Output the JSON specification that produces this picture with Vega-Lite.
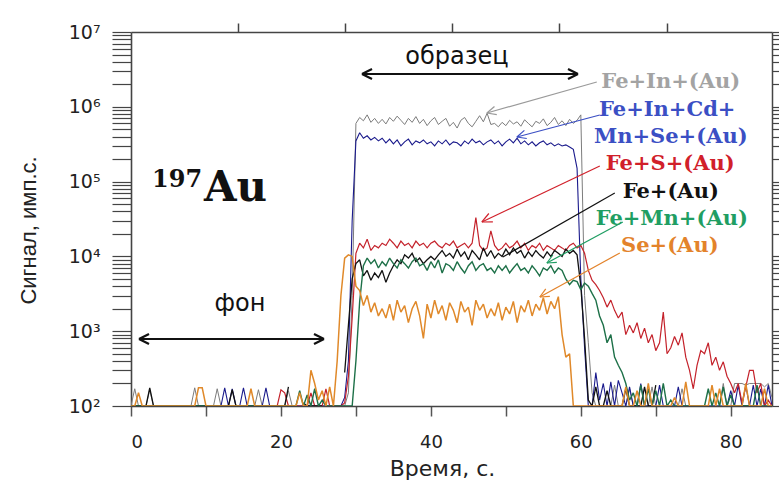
{
"$schema": "https://vega.github.io/schema/vega-lite/v6.json",
"autosize": "none",
"width": 641,
"height": 374,
"padding": {"left": 131, "top": 32, "right": 7, "bottom": 78},
"background": "white",
"config": {"view": {"stroke": null}, "axis": {"grid": false}},
"datasets": {
"sig": [
{"t":0,"g":100,"b":100,"r":100,"k":100,"n":100,"o":100},
{"t":0.5,"g":170,"b":100,"r":100,"k":100,"n":100,"o":100},
{"t":1,"g":100,"b":100,"r":100,"k":100,"n":100,"o":150},
{"t":1.5,"g":100,"b":100,"r":100,"k":100,"n":100,"o":100},
{"t":2,"g":100,"b":100,"r":100,"k":100,"n":100,"o":100},
{"t":2.5,"g":165,"b":100,"r":100,"k":175,"n":100,"o":100},
{"t":3,"g":100,"b":100,"r":100,"k":100,"n":100,"o":100},
{"t":3.5,"g":100,"b":100,"r":100,"k":100,"n":100,"o":100},
{"t":4,"g":100,"b":100,"r":100,"k":100,"n":100,"o":100},
{"t":4.5,"g":100,"b":100,"r":100,"k":100,"n":100,"o":100},
{"t":5,"g":100,"b":100,"r":100,"k":100,"n":100,"o":100},
{"t":5.5,"g":100,"b":100,"r":100,"k":100,"n":100,"o":100},
{"t":6,"g":100,"b":100,"r":100,"k":100,"n":100,"o":100},
{"t":6.5,"g":100,"b":100,"r":100,"k":100,"n":100,"o":100},
{"t":7,"g":100,"b":100,"r":100,"k":100,"n":100,"o":100},
{"t":7.5,"g":100,"b":100,"r":100,"k":100,"n":100,"o":100},
{"t":8,"g":100,"b":100,"r":100,"k":100,"n":100,"o":100},
{"t":8.5,"g":175,"b":100,"r":100,"k":100,"n":100,"o":100},
{"t":9,"g":100,"b":100,"r":100,"k":100,"n":100,"o":175},
{"t":9.5,"g":100,"b":100,"r":100,"k":100,"n":100,"o":175},
{"t":10,"g":100,"b":100,"r":100,"k":100,"n":100,"o":100},
{"t":10.5,"g":100,"b":100,"r":100,"k":100,"n":100,"o":100},
{"t":11,"g":100,"b":100,"r":100,"k":100,"n":100,"o":100},
{"t":11.5,"g":170,"b":100,"r":100,"k":100,"n":100,"o":100},
{"t":12,"g":100,"b":100,"r":100,"k":100,"n":100,"o":100},
{"t":12.5,"g":100,"b":175,"r":100,"k":100,"n":100,"o":100},
{"t":13,"g":100,"b":100,"r":100,"k":100,"n":100,"o":100},
{"t":13.5,"g":100,"b":170,"r":100,"k":165,"n":100,"o":100},
{"t":14,"g":100,"b":100,"r":100,"k":100,"n":100,"o":100},
{"t":14.5,"g":100,"b":100,"r":100,"k":100,"n":100,"o":100},
{"t":15,"g":100,"b":175,"r":100,"k":100,"n":100,"o":100},
{"t":15.5,"g":100,"b":100,"r":100,"k":100,"n":100,"o":100},
{"t":16,"g":100,"b":100,"r":100,"k":100,"n":100,"o":170},
{"t":16.5,"g":100,"b":100,"r":100,"k":100,"n":100,"o":100},
{"t":17,"g":165,"b":100,"r":100,"k":100,"n":100,"o":100},
{"t":17.5,"g":100,"b":100,"r":100,"k":100,"n":100,"o":100},
{"t":18,"g":100,"b":175,"r":100,"k":100,"n":100,"o":100},
{"t":18.5,"g":100,"b":100,"r":100,"k":100,"n":100,"o":100},
{"t":19,"g":100,"b":100,"r":100,"k":100,"n":100,"o":100},
{"t":19.5,"g":100,"b":100,"r":100,"k":100,"n":100,"o":100},
{"t":20,"g":100,"b":100,"r":165,"k":100,"n":100,"o":100},
{"t":20.5,"g":100,"b":100,"r":150,"k":100,"n":100,"o":100},
{"t":21,"g":160,"b":100,"r":100,"k":180,"n":100,"o":100},
{"t":21.5,"g":100,"b":100,"r":100,"k":null,"n":100,"o":100},
{"t":22,"g":100,"b":100,"r":100,"k":null,"n":100,"o":100},
{"t":22.5,"g":100,"b":100,"r":100,"k":null,"n":160,"o":150},
{"t":23,"g":100,"b":100,"r":100,"k":110,"n":100,"o":100},
{"t":23.5,"g":100,"b":100,"r":100,"k":100,"n":140,"o":100},
{"t":24,"g":100,"b":100,"r":150,"k":100,"n":100,"o":300},
{"t":24.5,"g":100,"b":100,"r":100,"k":100,"n":170,"o":200},
{"t":25,"g":100,"b":100,"r":100,"k":100,"n":100,"o":120},
{"t":25.5,"g":100,"b":100,"r":100,"k":100,"n":120,"o":160},
{"t":26,"g":100,"b":100,"r":170,"k":null,"n":100,"o":100},
{"t":26.5,"g":100,"b":100,"r":100,"k":null,"n":100,"o":180},
{"t":27,"g":100,"b":100,"r":100,"k":null,"n":100,"o":100},
{"t":27.5,"g":100,"b":100,"r":100,"k":null,"n":100,"o":400},
{"t":28,"g":100,"b":100,"r":100,"k":null,"n":100,"o":3000},
{"t":28.5,"g":100,"b":130,"r":110,"k":280,"n":100,"o":9500},
{"t":29,"g":150,"b":400,"r":250,"k":1200,"n":100,"o":10500},
{"t":29.5,"g":3000,"b":30000,"r":1500,"k":5000,"n":100,"o":10000},
{"t":30,"g":600000,"b":350000,"r":11000,"k":8000,"n":400,"o":4000},
{"t":30.5,"g":720000,"b":450000,"r":15000,"k":9000,"n":2500,"o":3500},
{"t":31,"g":650000,"b":380000,"r":13000,"k":5500,"n":7500,"o":2200},
{"t":31.5,"g":780000,"b":410000,"r":17000,"k":6500,"n":9500,"o":3000},
{"t":32,"g":620000,"b":360000,"r":12000,"k":4800,"n":8000,"o":1800},
{"t":32.5,"g":700000,"b":390000,"r":14000,"k":6000,"n":9000,"o":2400},
{"t":33,"g":600000,"b":350000,"r":13000,"k":5200,"n":7000,"o":1600},
{"t":33.5,"g":680000,"b":380000,"r":15000,"k":6500,"n":8500,"o":2000},
{"t":34,"g":590000,"b":330000,"r":14000,"k":4500,"n":7500,"o":1500},
{"t":34.5,"g":720000,"b":370000,"r":17000,"k":6000,"n":9500,"o":2300},
{"t":35,"g":640000,"b":320000,"r":15000,"k":7500,"n":8000,"o":1400},
{"t":35.5,"g":750000,"b":360000,"r":13000,"k":9000,"n":7000,"o":2600},
{"t":36,"g":660000,"b":300000,"r":16000,"k":8000,"n":9000,"o":1800},
{"t":36.5,"g":580000,"b":340000,"r":14000,"k":10500,"n":8000,"o":2200},
{"t":37,"g":700000,"b":370000,"r":15000,"k":9500,"n":7000,"o":1300},
{"t":37.5,"g":620000,"b":310000,"r":13000,"k":11000,"n":8500,"o":2000},
{"t":38,"g":740000,"b":350000,"r":16000,"k":8500,"n":9500,"o":2500},
{"t":38.5,"g":600000,"b":330000,"r":14000,"k":9500,"n":7500,"o":1600},
{"t":39,"g":680000,"b":360000,"r":15000,"k":8000,"n":8000,"o":800},
{"t":39.5,"g":560000,"b":320000,"r":13000,"k":9000,"n":6500,"o":2300},
{"t":40,"g":650000,"b":340000,"r":15000,"k":10000,"n":8500,"o":1500},
{"t":40.5,"g":720000,"b":300000,"r":16000,"k":9000,"n":7000,"o":2600},
{"t":41,"g":580000,"b":350000,"r":14000,"k":10500,"n":9000,"o":1700},
{"t":41.5,"g":640000,"b":320000,"r":13000,"k":12000,"n":6000,"o":2200},
{"t":42,"g":700000,"b":360000,"r":15000,"k":10000,"n":8000,"o":1400},
{"t":42.5,"g":550000,"b":310000,"r":14000,"k":11000,"n":7500,"o":2400},
{"t":43,"g":620000,"b":340000,"r":16000,"k":9500,"n":6500,"o":1900},
{"t":43.5,"g":520000,"b":330000,"r":13000,"k":12500,"n":8500,"o":1300},
{"t":44,"g":660000,"b":300000,"r":14000,"k":10000,"n":7000,"o":2500},
{"t":44.5,"g":720000,"b":350000,"r":15000,"k":11500,"n":6000,"o":1800},
{"t":45,"g":600000,"b":320000,"r":13000,"k":9000,"n":7500,"o":2100},
{"t":45.5,"g":540000,"b":370000,"r":15000,"k":12000,"n":8500,"o":1200},
{"t":46,"g":640000,"b":330000,"r":33000,"k":10500,"n":6500,"o":2600},
{"t":46.5,"g":760000,"b":350000,"r":14000,"k":9000,"n":7500,"o":1900},
{"t":47,"g":630000,"b":310000,"r":12000,"k":13000,"n":8000,"o":2300},
{"t":47.5,"g":820000,"b":340000,"r":13000,"k":10000,"n":6500,"o":1500},
{"t":48,"g":580000,"b":360000,"r":22000,"k":12000,"n":7000,"o":2000},
{"t":48.5,"g":600000,"b":320000,"r":14000,"k":9500,"n":6000,"o":1600},
{"t":49,"g":540000,"b":350000,"r":12000,"k":11000,"n":7500,"o":2400},
{"t":49.5,"g":620000,"b":300000,"r":13000,"k":10000,"n":6500,"o":1400},
{"t":50,"g":560000,"b":340000,"r":15000,"k":12500,"n":7500,"o":2100},
{"t":50.5,"g":660000,"b":370000,"r":13000,"k":10500,"n":6000,"o":1700},
{"t":51,"g":590000,"b":330000,"r":14000,"k":13000,"n":7000,"o":2500},
{"t":51.5,"g":630000,"b":380000,"r":16000,"k":11000,"n":8000,"o":1300},
{"t":52,"g":550000,"b":320000,"r":13000,"k":12000,"n":6500,"o":2200},
{"t":52.5,"g":670000,"b":350000,"r":15000,"k":9500,"n":7000,"o":1800},
{"t":53,"g":600000,"b":310000,"r":12000,"k":11500,"n":6000,"o":2600},
{"t":53.5,"g":540000,"b":340000,"r":14000,"k":10000,"n":7500,"o":1600},
{"t":54,"g":640000,"b":300000,"r":13000,"k":12000,"n":6500,"o":2300},
{"t":54.5,"g":600000,"b":330000,"r":15000,"k":10500,"n":5500,"o":1900},
{"t":55,"g":690000,"b":350000,"r":12000,"k":9500,"n":7000,"o":2800},
{"t":55.5,"g":560000,"b":310000,"r":14000,"k":11500,"n":6500,"o":1700},
{"t":56,"g":620000,"b":330000,"r":13000,"k":10000,"n":7500,"o":2500},
{"t":56.5,"g":720000,"b":300000,"r":12000,"k":12000,"n":6000,"o":2000},
{"t":57,"g":580000,"b":320000,"r":14000,"k":11000,"n":7000,"o":2900},
{"t":57.5,"g":650000,"b":300000,"r":13000,"k":10000,"n":6500,"o":900},
{"t":58,"g":560000,"b":310000,"r":12000,"k":12500,"n":5000,"o":450},
{"t":58.5,"g":680000,"b":290000,"r":14000,"k":11000,"n":4200,"o":500},
{"t":59,"g":600000,"b":270000,"r":15000,"k":12000,"n":4800,"o":100},
{"t":59.5,"g":660000,"b":150000,"r":13000,"k":10500,"n":4600,"o":100},
{"t":60,"g":780000,"b":5000,"r":14000,"k":4000,"n":3600,"o":100},
{"t":60.5,"g":3000,"b":600,"r":11000,"k":800,"n":4400,"o":100},
{"t":61,"g":700,"b":100,"r":6500,"k":120,"n":4000,"o":100},
{"t":61.5,"g":150,"b":100,"r":4800,"k":100,"n":3200,"o":100},
{"t":62,"g":100,"b":280,"r":4200,"k":180,"n":2600,"o":100},
{"t":62.5,"g":100,"b":120,"r":3500,"k":100,"n":1600,"o":100},
{"t":63,"g":100,"b":200,"r":2800,"k":100,"n":1200,"o":100},
{"t":63.5,"g":100,"b":100,"r":2100,"k":160,"n":700,"o":100},
{"t":64,"g":100,"b":210,"r":2600,"k":100,"n":900,"o":100},
{"t":64.5,"g":190,"b":100,"r":1900,"k":100,"n":450,"o":100},
{"t":65,"g":100,"b":220,"r":1500,"k":100,"n":350,"o":100},
{"t":65.5,"g":100,"b":150,"r":1800,"k":100,"n":280,"o":100},
{"t":66,"g":100,"b":100,"r":900,"k":170,"n":200,"o":180},
{"t":66.5,"g":170,"b":180,"r":1200,"k":100,"n":120,"o":100},
{"t":67,"g":100,"b":100,"r":950,"k":100,"n":150,"o":100},
{"t":67.5,"g":100,"b":100,"r":1300,"k":100,"n":100,"o":160},
{"t":68,"g":100,"b":200,"r":800,"k":100,"n":190,"o":100},
{"t":68.5,"g":100,"b":100,"r":1100,"k":180,"n":100,"o":100},
{"t":69,"g":100,"b":100,"r":700,"k":100,"n":170,"o":200},
{"t":69.5,"g":180,"b":100,"r":900,"k":100,"n":100,"o":100},
{"t":70,"g":100,"b":100,"r":550,"k":190,"n":160,"o":100},
{"t":70.5,"g":100,"b":190,"r":700,"k":null,"n":100,"o":100},
{"t":71,"g":100,"b":100,"r":1800,"k":null,"n":200,"o":100},
{"t":71.5,"g":100,"b":100,"r":500,"k":null,"n":100,"o":100},
{"t":72,"g":100,"b":100,"r":600,"k":null,"n":120,"o":100},
{"t":72.5,"g":100,"b":100,"r":850,"k":null,"n":100,"o":130},
{"t":73,"g":100,"b":180,"r":650,"k":null,"n":100,"o":100},
{"t":73.5,"g":170,"b":100,"r":950,"k":null,"n":100,"o":100},
{"t":74,"g":100,"b":100,"r":450,"k":null,"n":100,"o":210},
{"t":74.5,"g":100,"b":100,"r":300,"k":null,"n":100,"o":100},
{"t":75,"g":100,"b":100,"r":170,"k":null,"n":100,"o":100},
{"t":75.5,"g":100,"b":100,"r":350,"k":null,"n":100,"o":100},
{"t":76,"g":100,"b":100,"r":550,"k":null,"n":100,"o":100},
{"t":76.5,"g":100,"b":100,"r":500,"k":null,"n":100,"o":100},
{"t":77,"g":100,"b":100,"r":700,"k":null,"n":170,"o":100},
{"t":77.5,"g":100,"b":100,"r":350,"k":null,"n":100,"o":190},
{"t":78,"g":100,"b":100,"r":450,"k":null,"n":150,"o":100},
{"t":78.5,"g":100,"b":100,"r":300,"k":null,"n":100,"o":170},
{"t":79,"g":200,"b":100,"r":390,"k":null,"n":180,"o":100},
{"t":79.5,"g":100,"b":100,"r":250,"k":null,"n":100,"o":100},
{"t":80,"g":100,"b":160,"r":200,"k":100,"n":140,"o":100},
{"t":80.5,"g":200,"b":100,"r":150,"k":100,"n":100,"o":100},
{"t":81,"g":200,"b":190,"r":200,"k":100,"n":100,"o":100},
{"t":81.5,"g":200,"b":100,"r":110,"k":100,"n":100,"o":100},
{"t":82,"g":190,"b":190,"r":180,"k":100,"n":100,"o":200},
{"t":82.5,"g":200,"b":100,"r":300,"k":100,"n":100,"o":100},
{"t":83,"g":200,"b":190,"r":300,"k":100,"n":100,"o":100},
{"t":83.5,"g":200,"b":100,"r":150,"k":100,"n":190,"o":100},
{"t":84,"g":200,"b":170,"r":200,"k":null,"n":100,"o":100},
{"t":84.5,"g":180,"b":100,"r":100,"k":null,"n":100,"o":170},
{"t":85,"g":200,"b":190,"r":120,"k":null,"n":100,"o":100},
{"t":85.5,"g":130,"b":100,"r":100,"k":200,"n":100,"o":100}
],
"bigarrows": [
{"t":1.07,"v":786.7,"t2":25.74,"v2":786.7},
{"t":1.07,"v":786.7,"t2":2.4,"v2":917.6},
{"t":1.07,"v":786.7,"t2":2.4,"v2":674.2},
{"t":25.74,"v":786.7,"t2":24.41,"v2":917.6},
{"t":25.74,"v":786.7,"t2":24.41,"v2":674.2},
{"t":30.81,"v":2745000,"t2":59.62,"v2":2745000},
{"t":30.81,"v":2745000,"t2":32.15,"v2":3201000},
{"t":30.81,"v":2745000,"t2":32.15,"v2":2353000},
{"t":59.62,"v":2745000,"t2":58.29,"v2":3201000},
{"t":59.62,"v":2745000,"t2":58.29,"v2":2353000}
],
"arrows": [
{"c":"g","t":62.13,"v":2147000,"t2":47.47,"v2":826000},
{"c":"g","t":47.47,"v":826000,"t2":48.79,"v2":787000},
{"c":"g","t":47.47,"v":826000,"t2":48.48,"v2":1009000},
{"c":"b","t":62.53,"v":777000,"t2":51.47,"v2":395000},
{"c":"b","t":51.47,"v":395000,"t2":52.79,"v2":377000},
{"c":"b","t":51.47,"v":395000,"t2":52.47,"v2":484000},
{"c":"r","t":62.53,"v":161700,"t2":46.8,"v2":28840},
{"c":"r","t":46.8,"v":28840,"t2":48.27,"v2":28900},
{"c":"r","t":46.8,"v":28840,"t2":47.73,"v2":37460},
{"c":"k","t":64.53,"v":70400,"t2":49.6,"v2":9820},
{"c":"n","t":65.6,"v":28840,"t2":55.47,"v2":8160},
{"c":"n","t":55.47,"v":8160,"t2":56.8,"v2":8310},
{"c":"n","t":55.47,"v":8160,"t2":56.27,"v2":10440},
{"c":"o","t":65.2,"v":11110,"t2":54.53,"v2":2866},
{"c":"o","t":54.53,"v":2866,"t2":55.87,"v2":2928},
{"c":"o","t":54.53,"v":2866,"t2":55.32,"v2":3678}
],
"labels": [
{"lbl":"Fe+In+(Au)","t":72.0,"v":1784000,"c":"g"},
{"lbl":"Fe+In+Cd+","t":71.53,"v":754000,"c":"b"},
{"lbl":"Mn+Se+(Au)","t":72.0,"v":328000,"c":"b"},
{"lbl":"Fe+S+(Au)","t":71.93,"v":143000,"c":"r"},
{"lbl":"Fe+(Au)","t":72.0,"v":60400,"c":"k"},
{"lbl":"Fe+Mn+(Au)","t":72.13,"v":26300,"c":"n"},
{"lbl":"Se+(Au)","t":71.87,"v":11450,"c":"o"}
],
"notes": [
{"lbl":"образец","t":43.47,"v":3730000},
{"lbl":"фон","t":14.53,"v":1862}
],
"iso": [{"lbl":"197","t":2.8,"v":84680}],
"elem": [{"lbl":"Au","t":9.73,"v":55030}]
},
"resolve": {"scale": {"color": "independent", "strokeWidth": "independent"}, "axis": {"x": "independent", "y": "independent"}},
"layer": [
{
"data": {"name": "sig"},
"transform": [{"fold": ["g","b","r","k","n","o"], "as": ["s","v"]}],
"mark": {"type": "line", "clip": true, "strokeJoin": "miter", "strokeMiterLimit": 2},
"encoding": {
"x": {"field": "t", "type": "quantitative", "scale": {"domain": [0, 85.5], "nice": false, "zero": false},
"axis": {"orient": "bottom", "values": [0,10,20,30,40,50,60,70,80], "labelExpr": "datum.value % 20 == 0 ? datum.label : ''",
"tickSize": 10, "tickColor": "#555", "tickWidth": 1.5, "domainColor": "#444", "domainWidth": 1.5,
"labelFont": "DejaVu Sans", "labelFontSize": 18, "labelColor": "#222", "labelPadding": 17, "labelOverlap": false,
"title": "Время, с.", "titleFont": "DejaVu Sans", "titleFontSize": 22, "titleFontWeight": "normal", "titleColor": "#222",
"titleX": 311, "titleY": 69, "titleAlign": "center", "titleBaseline": "alphabetic"}},
"y": {"field": "v", "type": "quantitative", "scale": {"type": "log", "domain": [100, 10000000], "nice": false},
"axis": {"orient": "left",
"values": [100,200,300,400,500,600,700,800,900,1000,2000,3000,4000,5000,6000,7000,8000,9000,10000,20000,30000,40000,50000,60000,70000,80000,90000,100000,200000,300000,400000,500000,600000,700000,800000,900000,1000000,2000000,3000000,4000000,5000000,6000000,7000000,8000000,9000000,10000000],
"labelExpr": "datum.value == 100 ? '10²' : datum.value == 1000 ? '10³' : datum.value == 10000 ? '10⁴' : datum.value == 100000 ? '10⁵' : datum.value == 1000000 ? '10⁶' : datum.value == 10000000 ? '10⁷' : ''",
"tickSize": 19, "tickColor": "#444", "tickWidth": 1.2, "domainColor": "#444", "domainWidth": 1.6,
"encode": {"ticks": {"update": {"x2": {"signal": "indexof([100,1000,10000,100000,1000000,10000000], datum.value) >= 0 ? -19 : -12"}}}},
"labelFont": "DejaVu Sans", "labelFontSize": 19, "labelColor": "#222", "labelPadding": 12, "labelOverlap": false, "labelBaseline": "middle",
"title": "Сигнал, имп.с.", "titleFont": "Liberation Sans", "titleFontSize": 22, "titleFontWeight": "normal", "titleColor": "#222",
"titleAngle": -90, "titleX": -96, "titleY": 198, "titleAlign": "center", "titleBaseline": "alphabetic"}},
"color": {"field": "s", "type": "nominal", "legend": null,
"scale": {"domain": ["g","b","r","k","n","o"], "range": ["#7c7c7c","#1a1a8c","#c4222b","#111111","#1d7048","#e0892a"]}},
"strokeWidth": {"field": "s", "type": "nominal", "legend": null,
"scale": {"domain": ["g","b","r","k","n","o"], "range": [1, 1.5, 1.2, 1.4, 1.2, 1.2]}}
}
},
{
"data": {"name": "bigarrows"},
"mark": {"type": "rule", "color": "#111", "strokeWidth": 2.2},
"encoding": {
"x": {"field": "t", "type": "quantitative", "scale": {"domain": [0, 85.5], "nice": false, "zero": false}, "axis": null},
"x2": {"field": "t2"},
"y": {"field": "v", "type": "quantitative", "scale": {"type": "log", "domain": [100, 10000000], "nice": false}, "axis": null},
"y2": {"field": "v2"}
}
},
{
"data": {"name": "arrows"},
"mark": {"type": "rule", "strokeWidth": 1.2},
"encoding": {
"x": {"field": "t", "type": "quantitative", "scale": {"domain": [0, 85.5], "nice": false, "zero": false}, "axis": null},
"x2": {"field": "t2"},
"y": {"field": "v", "type": "quantitative", "scale": {"type": "log", "domain": [100, 10000000], "nice": false}, "axis": null},
"y2": {"field": "v2"},
"color": {"field": "c", "type": "nominal", "legend": null,
"scale": {"domain": ["g","b","r","k","n","o"], "range": ["#9a9a9a","#3b4fc4","#d1202a","#111111","#1f9e63","#e3832b"]}}
}
},
{
"data": {"name": "labels"},
"mark": {"type": "text", "font": "DejaVu Serif", "fontWeight": "bold", "fontSize": 21, "align": "center", "baseline": "alphabetic"},
"encoding": {
"x": {"field": "t", "type": "quantitative", "scale": {"domain": [0, 85.5], "nice": false, "zero": false},
"axis": {"orient": "top", "values": [14.29, 28.57, 42.86, 57.14, 71.43], "labels": false, "title": null, "tickSize": 9, "tickColor": "#444", "tickWidth": 1.5, "domainColor": "#444", "domainWidth": 1.5}},
"y": {"field": "v", "type": "quantitative", "scale": {"type": "log", "domain": [100, 10000000], "nice": false},
"axis": {"orient": "right", "title": null, "labels": false,
"values": [100,200,300,400,500,600,700,800,900,1000,2000,3000,4000,5000,6000,7000,8000,9000,10000,20000,30000,40000,50000,60000,70000,80000,90000,100000,200000,300000,400000,500000,600000,700000,800000,900000,1000000,2000000,3000000,4000000,5000000,6000000,7000000,8000000,9000000,10000000],
"tickSize": 9, "tickColor": "#444", "tickWidth": 1.2, "domainColor": "#444", "domainWidth": 1.5}},
"text": {"field": "lbl"},
"color": {"field": "c", "type": "nominal", "legend": null,
"scale": {"domain": ["g","b","r","k","n","o"], "range": ["#a3a3a3","#3b4fc4","#d1202a","#111111","#1f9e63","#e3832b"]}}
}
},
{
"data": {"name": "notes"},
"mark": {"type": "text", "font": "DejaVu Sans", "fontSize": 24, "align": "center", "baseline": "alphabetic", "color": "#111"},
"encoding": {
"x": {"field": "t", "type": "quantitative", "scale": {"domain": [0, 85.5], "nice": false, "zero": false}, "axis": null},
"y": {"field": "v", "type": "quantitative", "scale": {"type": "log", "domain": [100, 10000000], "nice": false}, "axis": null},
"text": {"field": "lbl"}
}
},
{
"data": {"name": "iso"},
"mark": {"type": "text", "font": "DejaVu Serif", "fontWeight": "bold", "fontSize": 24, "align": "left", "baseline": "alphabetic", "color": "#111"},
"encoding": {
"x": {"field": "t", "type": "quantitative", "scale": {"domain": [0, 85.5], "nice": false, "zero": false}, "axis": null},
"y": {"field": "v", "type": "quantitative", "scale": {"type": "log", "domain": [100, 10000000], "nice": false}, "axis": null},
"text": {"field": "lbl"}
}
},
{
"data": {"name": "elem"},
"mark": {"type": "text", "font": "DejaVu Serif", "fontWeight": "bold", "fontSize": 42, "align": "left", "baseline": "alphabetic", "color": "#111"},
"encoding": {
"x": {"field": "t", "type": "quantitative", "scale": {"domain": [0, 85.5], "nice": false, "zero": false}, "axis": null},
"y": {"field": "v", "type": "quantitative", "scale": {"type": "log", "domain": [100, 10000000], "nice": false}, "axis": null},
"text": {"field": "lbl"}
}
}
]
}
